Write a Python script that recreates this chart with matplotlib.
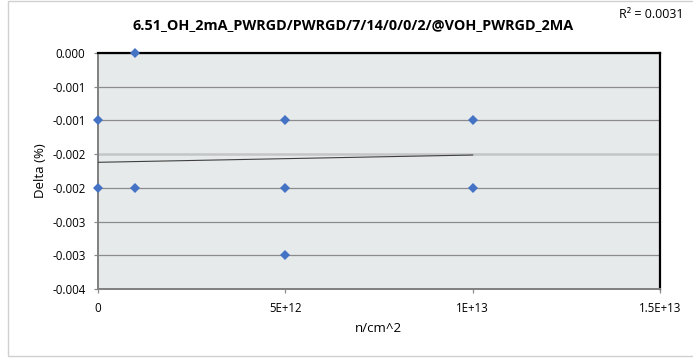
import matplotlib
matplotlib.use("Agg")
import matplotlib.pyplot as plt
from matplotlib.patches import Rectangle

plt.rcParams['font.family'] = ['Open Sans', 'DejaVu Sans']

title = "6.51_OH_2mA_PWRGD/PWRGD/7/14/0/0/2/@VOH_PWRGD_2MA"
x_label = "n/cm^2"
y_label = "Delta (%)"
r2_text = "R² = 0.0031"

x_vals = [0, 0, 1e12, 1e12, 5e12, 5e12, 5e12, 1e13, 1e13]
y_vals = [-0.001, -0.002, 0.000, -0.002, -0.001, -0.002, -0.003, -0.001, -0.002]

trend_x = [0, 1e13]
trend_y = [-0.001621, -0.001513]

x_ticks = [0, 5e12, 1e13, 1.5e13]
x_tick_labels = ["0", "5E+12", "1E+13", "1.5E+13"]
y_ticks = [0, -0.0005, -0.001, -0.0015, -0.002, -0.0025, -0.003, -0.0035]
y_tick_labels = ["0.000", "-0.001", "-0.001", "-0.002", "-0.002", "-0.003", "-0.003", "-0.004"]

W, H = 693, 359
fig = plt.figure(figsize=(W / 100, H / 100), dpi=100)

# outer chart border
fig.patches.append(Rectangle((8 / W, 3 / H), 1.2, (356 - 1) / H, transform=fig.transFigure,
                             fill=False, edgecolor='#d0d0d0', linewidth=1.0))

L, R, T, B = 98, 660, 53, 289
ax = fig.add_axes([L / W, 1 - B / H, (R - L) / W, (B - T) / H])
ax.set_facecolor('#e6eaea')

ax.set_xlim(0, 1.5e13)
ax.set_ylim(-0.0035, 0)
ax.set_xticks(x_ticks)
ax.set_xticklabels(x_tick_labels)
ax.set_yticks(y_ticks)
ax.set_yticklabels(y_tick_labels)

ax.grid(axis='y', color='#8c8c8c', linewidth=0.9)
ax.set_axisbelow(True)
gl = ax.get_ygridlines()
gl[3].set_color('#c4c6c6')
gl[3].set_linewidth(1.8)

ax.tick_params(axis='both', direction='out', length=3, width=0.9, color='#8c8c8c',
               labelsize=8.3, labelcolor='#000000')
ax.tick_params(axis='y', pad=6)
ax.tick_params(axis='x', pad=6)

for s in ['top', 'right']:
    ax.spines[s].set_color('#000000')
    ax.spines[s].set_linewidth(1.6)
for s in ['left', 'bottom']:
    ax.spines[s].set_color('#808080')
    ax.spines[s].set_linewidth(1.4)

ax.plot(trend_x, trend_y, color='#404040', linewidth=0.8, zorder=3)
ax.plot(x_vals, y_vals, linestyle='none', marker='D', markersize=4.8,
        color='#4472c4', markeredgewidth=0, clip_on=False, zorder=4)

fig.text(353 / W, 1 - 25 / H, title, ha='center', va='center', fontsize=10.4, fontweight='bold')
fig.text(619 / W, 1 - 14 / H, r2_text, ha='left', va='center', fontsize=9)
fig.text(40 / W, 1 - 171 / H, y_label, ha='center', va='center', rotation=90, fontsize=9.5)
fig.text(378 / W, 1 - 328 / H, x_label, ha='center', va='center', fontsize=9.5)

fig.savefig('out.png', dpi=100)
